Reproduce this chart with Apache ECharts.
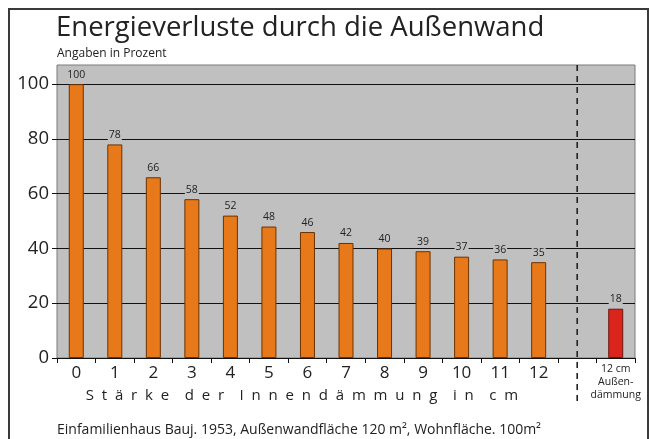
<!DOCTYPE html>
<html>
<head>
<meta charset="utf-8">
<script src="https://cdn.jsdelivr.net/npm/echarts@6/dist/echarts.min.js"></script>
<style>
  html, body { margin: 0; padding: 0; background: #fff; }
  #main { width: 649px; height: 439px; }
</style>
</head>
<body>
<div id="main"></div>
<script>
// categories: wall insulation thickness (cm), gap, exterior insulation
var categories = ['0', '1', '2', '3', '4', '5', '6', '7', '8', '9', '10', '11', '12', '', '12 cm\nAußen-\ndämmung'];
var lossValues = [100, 78, 66, 58, 52, 48, 46, 42, 40, 39, 37, 36, 35, null, 18];
var yTicks = [0, 20, 40, 60, 80, 100];

var FONT = '"Open Sans", "DejaVu Sans", sans-serif';
var chart = echarts.init(document.getElementById('main'), null, { renderer: 'canvas' });

// spread the axis title letters out like the original
function spaced(str) {
  return str.split(' ').map(function (w) { return w.split('').join('  '); }).join('    ');
}

var barData = lossValues.map(function (v, i) {
  if (i === categories.length - 1) {
    return { value: v, itemStyle: { color: '#da251d', borderColor: '#6e1510' } };
  }
  return v;
});

var option = {
  animation: false,
  backgroundColor: '#fff',
  grid: {
    left: 57, right: 14, top: 65, bottom: 81,
    show: true, backgroundColor: '#c0c0c0', borderColor: '#7a7a7a', borderWidth: 1
  },
  xAxis: {
    type: 'category',
    data: categories,
    axisLine: { lineStyle: { color: '#111', width: 1 } },
    axisTick: { show: true, interval: 0, length: 5, lineStyle: { color: '#111' } },
    axisLabel: {
      interval: 0, margin: 5,
      formatter: function (val) {
        if (val.indexOf('\n') >= 0) return '{s|' + val.split('\n').join('}\n{s|') + '}';
        return '{n|' + val + '}';
      },
      rich: {
        n: { fontFamily: FONT, fontSize: 17, color: '#222', lineHeight: 20 },
        s: { fontFamily: FONT, fontSize: 10.5, color: '#222', lineHeight: 13 }
      }
    }
  },
  yAxis: {
    type: 'value',
    min: 0, max: 107, interval: 20,
    axisLine: { show: false },
    axisTick: { show: true, length: 5, lineStyle: { color: '#111' },
      customValues: yTicks },
    axisLabel: { fontFamily: FONT, fontSize: 18.5, color: '#222', margin: 8,
      customValues: yTicks },
    splitLine: { show: true, lineStyle: { color: '#111', width: 1 } }
  },
  series: [{
    type: 'bar',
    data: barData,
    barWidth: 15,
    itemStyle: { color: '#e8791a', borderColor: '#6b3200', borderWidth: 1 },
    label: {
      show: true, position: 'top', distance: 4,
      fontFamily: FONT, fontSize: 10.5, color: '#222',
      backgroundColor: '#c0c0c0', padding: [0, 1]
    }
  }],
  graphic: [
    { type: 'rect', shape: { x: 9, y: 9, width: 639, height: 450 },
      style: { fill: 'none', stroke: '#3a3a3a', lineWidth: 2 }, silent: true },
    { type: 'text', x: 56, y: 42, style: { text: 'Energieverluste durch die Außenwand',
      font: '27.5px ' + FONT, fill: '#222', textVerticalAlign: 'bottom' } },
    { type: 'text', x: 57, y: 60, style: { text: 'Angaben in Prozent',
      font: '12px ' + FONT, fill: '#222', textVerticalAlign: 'bottom' } },
    { type: 'text', x: 302, y: 396, style: { text: spaced('Stärke der Innendämmung in cm'),
      font: '15px ' + FONT, fill: '#222', textAlign: 'center', textVerticalAlign: 'middle' } },
    { type: 'text', x: 57, y: 437, style: { text: 'Einfamilienhaus Bauj. 1953, Außenwandfläche 120 m², Wohnfläche. 100m²',
      font: '14px ' + FONT, fill: '#222', textVerticalAlign: 'bottom' } }
  ]
};
chart.setOption(option);

// dashed separator through the empty category, extending below the axis
var sepX = chart.convertToPixel({ xAxisIndex: 0 }, 13);
var topY = chart.convertToPixel({ yAxisIndex: 0 }, 107);
chart.setOption({
  graphic: option.graphic.concat([{
    type: 'line', shape: { x1: sepX, y1: topY, x2: sepX, y2: 404 },
    style: { stroke: '#222', lineWidth: 1.6, lineDash: [6, 5] }, z: 100
  }])
});
</script>
</body>
</html>
